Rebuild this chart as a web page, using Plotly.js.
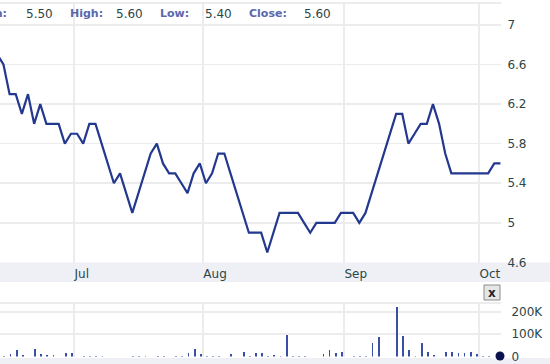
<!DOCTYPE html>
<html>
<head>
<meta charset="utf-8">
<script src="https://cdn.plot.ly/plotly-3.0.1.min.js"></script>
<style>html,body{margin:0;padding:0;background:#fff;}#chart{width:550px;height:364px;}</style>
</head>
<body>
<div id="chart"></div>
<script>
// Trading days (weekdays), 2011
const dates = [
 '2011-06-14','2011-06-15','2011-06-16','2011-06-17','2011-06-20','2011-06-21','2011-06-22','2011-06-23','2011-06-24',
 '2011-06-27','2011-06-28','2011-06-29','2011-06-30','2011-07-01','2011-07-04','2011-07-05','2011-07-06','2011-07-07',
 '2011-07-08','2011-07-11','2011-07-12','2011-07-13','2011-07-14','2011-07-15','2011-07-18','2011-07-19','2011-07-20',
 '2011-07-21','2011-07-22','2011-07-25','2011-07-26','2011-07-27','2011-07-28','2011-07-29','2011-08-01','2011-08-02',
 '2011-08-03','2011-08-04','2011-08-05','2011-08-08','2011-08-09','2011-08-10','2011-08-11','2011-08-12','2011-08-15',
 '2011-08-16','2011-08-17','2011-08-18','2011-08-19','2011-08-22','2011-08-23','2011-08-24','2011-08-25','2011-08-26',
 '2011-08-29','2011-08-30','2011-08-31','2011-09-01','2011-09-02','2011-09-05','2011-09-06','2011-09-07','2011-09-08',
 '2011-09-09','2011-09-12','2011-09-13','2011-09-14','2011-09-15','2011-09-16','2011-09-19','2011-09-20','2011-09-21',
 '2011-09-22','2011-09-23','2011-09-26','2011-09-27','2011-09-28','2011-09-29','2011-09-30','2011-10-03','2011-10-04',
 '2011-10-05','2011-10-06'
];
const closePrices = [
 6.7,6.6,6.3,6.3,6.1,6.3,6.0,6.2,6.0,
 6.0,6.0,5.8,5.9,5.9,5.8,6.0,6.0,5.8,
 5.6,5.4,5.5,5.3,5.1,5.3,5.5,5.7,5.8,
 5.6,5.5,5.5,5.4,5.3,5.5,5.6,5.4,5.5,
 5.7,5.7,5.5,5.3,5.1,4.9,4.9,4.9,4.7,
 4.9,5.1,5.1,5.1,5.1,5.0,4.9,5.0,5.0,
 5.0,5.0,5.1,5.1,5.1,5.0,5.1,5.3,5.5,
 5.7,5.9,6.1,6.1,5.8,5.9,6.0,6.0,6.2,
 6.0,5.7,5.5,5.5,5.5,5.5,5.5,5.5,5.5,
 5.6,5.6
];
const volumes = [
 0,4000,12000,30000,8000,0,35000,12000,8000,
 8000,0,15000,15000,0,4000,4000,4000,4000,
 0,0,0,0,4000,4000,4000,0,4000,
 4000,0,4000,4000,15000,33000,12000,4000,4000,
 4000,0,12000,0,20000,4000,15000,15000,4000,
 8000,4000,98000,4000,4000,4000,0,0,12000,
 30000,15000,20000,0,4000,4000,4000,62000,88000,
 0,0,223000,93000,31000,4000,62000,20000,8000,
 0,20000,22000,15000,15000,22000,10000,4000,4000,
 0,0
];
const monthTickVals = ['2011-06-30 12:00','2011-07-29 12:00','2011-08-31 12:00','2011-09-30 12:00'];
const monthTickText = ['Jul','Aug','Sep','Oct'];
const volTickVals = [0,100000,200000];
const volTickText = ['0','100K','200K'];
const headerLabels = ['Open:','High:','Low:','Close:'];
const headerValues = ['5.50','5.60','5.40','5.60'];

const PW = 501, PH = 364;
const px = x => x / PW;
const py = y => 1 - y / PH;

const FONT = 'DejaVu Sans, Verdana, sans-serif';
const TXT = '#2b4646';
const GRID = '#ececec';
const rb = [{bounds:['sat','mon']}];

const traces = [
 {x: dates, y: closePrices, type:'scatter', mode:'lines', xaxis:'x', yaxis:'y',
  line:{color:'#23388f', width:2.2}, hoverinfo:'skip'},
 {x: dates, y: volumes, type:'bar', xaxis:'x2', yaxis:'y2', width: 0.3*86400000, offset: 0,
  marker:{color:'#3b4ea6', line:{width:0}}, hoverinfo:'skip'}
];

const headerX = [[9,24.3],[67.7,114.3],[158.3,202.7],[246.7,301.7]];
const annotations = [];
headerLabels.forEach((t,i)=>{
  annotations.push({xref:'paper', yref:'paper', x:px(headerX[i][0]), y:py(14), text:'<b>'+t+'</b>',
    xanchor: i===0 ? 'right' : 'left', yanchor:'middle', showarrow:false,
    font:{family:FONT, size:11, color:'#5a68ad'}});
  annotations.push({xref:'paper', yref:'paper', x:px(headerX[i][1]), y:py(14), text:headerValues[i],
    xanchor:'left', yanchor:'middle', showarrow:false,
    font:{family:FONT, size:12, color:TXT}});
});
annotations.push({xref:'paper', yref:'paper', x:px(492), y:py(292.5), text:'<b>x</b>',
  xanchor:'center', yanchor:'middle', showarrow:false, font:{family:FONT, size:12, color:'#222'}});

const shapes = [
 {type:'rect', xref:'paper', yref:'paper', x0:0, x1:px(550), y0:py(282), y1:py(262.5),
  fillcolor:'#eef0f6', line:{width:0}, layer:'below'},
 {type:'rect', xref:'paper', yref:'paper', x0:0, x1:px(550), y0:py(364), y1:py(358),
  fillcolor:'#eef0f6', line:{width:0}, layer:'below'},
 {type:'line', xref:'paper', yref:'paper', x0:0, x1:1, y0:py(3), y1:py(3), line:{color:'#e6e6e6', width:1.5}},
 {type:'line', xref:'paper', yref:'paper', x0:0, x1:1, y0:py(303), y1:py(303), line:{color:'#e6e6e6', width:1.5}},
 {type:'rect', xref:'paper', yref:'paper', x0:px(484), x1:px(500), y0:py(300), y1:py(285),
  fillcolor:'#e6e6e6', line:{color:'#8c8c8c', width:1}},
 {type:'circle', xref:'paper', yref:'paper', x0:px(495.5), x1:px(504.5), y0:py(360.5), y1:py(351.5),
  fillcolor:'#0b1250', line:{width:0}}
];

const layout = {
 width:550, height:364,
 margin:{l:0, r:49, t:0, b:0},
 paper_bgcolor:'#ffffff', plot_bgcolor:'rgba(0,0,0,0)',
 showlegend:false, hovermode:false, bargap:0,
 font:{family:FONT, size:12, color:TXT},
 xaxis:{type:'date', anchor:'y', range:['2011-06-14 10:30','2011-10-06 02:10'], rangebreaks:rb,
   tickvals:monthTickVals, ticktext:monthTickText, ticklabelposition:'outside right',
   ticks:'outside', ticklen:2, tickcolor:'rgba(0,0,0,0)',
   showgrid:true, gridcolor:GRID, gridwidth:1.5, zeroline:false, showline:false,
   tickfont:{family:FONT, size:12, color:TXT}, fixedrange:true},
 xaxis2:{type:'date', anchor:'y2', matches:'x', range:['2011-06-14 10:30','2011-10-06 02:10'], rangebreaks:rb,
   tickvals:monthTickVals, showticklabels:false, ticks:'',
   showgrid:true, gridcolor:GRID, gridwidth:1.5, zeroline:false, showline:false, fixedrange:true},
 yaxis:{domain:[py(262.5), py(3)], range:[4.599, 7.221], side:'right', tick0:4.6, dtick:0.4,
   ticks:'outside', ticklen:3, tickcolor:'rgba(0,0,0,0)',
   showgrid:true, gridcolor:GRID, gridwidth:1.5, zeroline:false, showline:false,
   tickfont:{family:FONT, size:12, color:TXT}, fixedrange:true},
 yaxis2:{domain:[py(356.5), py(303)], range:[0, 240000], side:'right', anchor:'x2',
   tickvals:volTickVals, ticktext:volTickText,
   ticks:'outside', ticklen:7, tickcolor:'rgba(0,0,0,0)',
   showgrid:true, gridcolor:GRID, gridwidth:1.5, zeroline:false, showline:false,
   tickfont:{family:FONT, size:12, color:TXT}, fixedrange:true},
 annotations: annotations,
 shapes: shapes
};

Plotly.newPlot('chart', traces, layout, {displayModeBar:false, staticPlot:true});
</script>
</body>
</html>
